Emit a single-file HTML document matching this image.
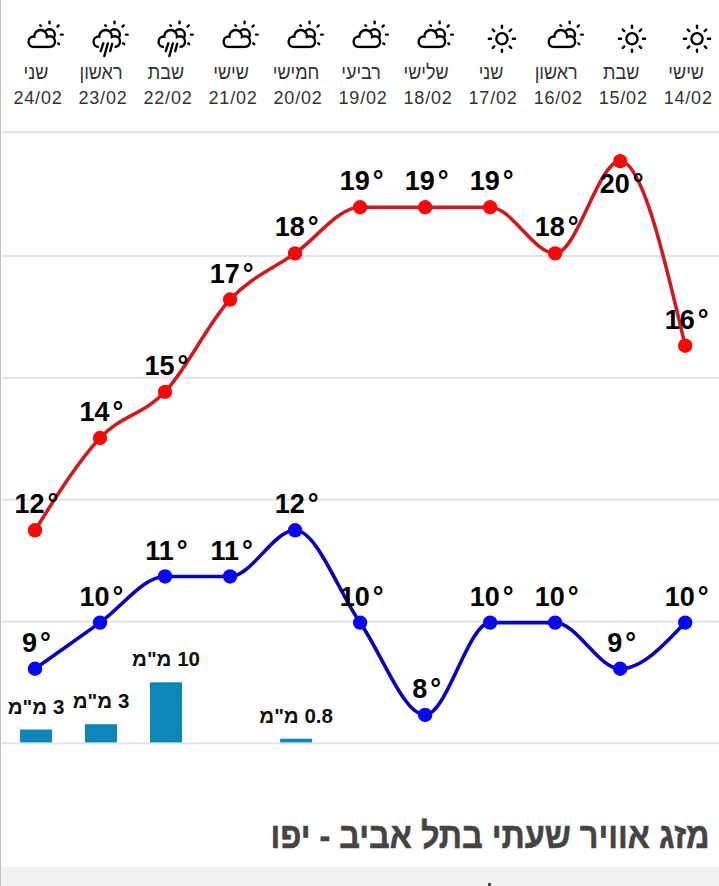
<!DOCTYPE html>
<html><head><meta charset="utf-8"><style>
html,body{margin:0;padding:0;}
body{width:719px;height:886px;position:relative;overflow:hidden;background:#fff;font-family:"Liberation Sans",sans-serif;}
.lb{position:absolute;left:0;top:0;width:1px;height:886px;background:#c0c0c0;}
.dn,.dt{position:absolute;width:80px;text-align:center;color:#333;font-size:18px;line-height:20px;white-space:nowrap;}
.dn{top:62px;transform:scaleY(1.15);transform-origin:50% 8px;}
.dt{top:88px;letter-spacing:0.8px;}
svg{position:absolute;left:0;top:0;}
.tl{font-family:"Liberation Sans",sans-serif;font-weight:bold;font-size:27px;text-anchor:middle;fill:#000;}
.bl{font-family:"Liberation Sans",sans-serif;font-weight:bold;font-size:20.5px;text-anchor:middle;fill:#111;}
.title{position:absolute;right:9.5px;top:819px;-webkit-text-stroke:0.5px #444;line-height:36px;transform:scaleY(1.11);transform-origin:100% 29px;font-size:32.4px;font-weight:bold;color:#444;direction:rtl;white-space:nowrap;}
.band{position:absolute;left:1px;top:866.5px;width:718px;height:20px;background:#f2f2f2;}
</style></head><body>
<div class="lb"></div>
<div class="dn" style="left:-4.0px">שני</div><div class="dt" style="left:-2.0px">24/02</div><div class="dn" style="left:61.0px">ראשון</div><div class="dt" style="left:63.0px">23/02</div><div class="dn" style="left:126.0px">שבת</div><div class="dt" style="left:128.0px">22/02</div><div class="dn" style="left:191.1px">שישי</div><div class="dt" style="left:193.1px">21/02</div><div class="dn" style="left:256.1px">חמישי</div><div class="dt" style="left:258.1px">20/02</div><div class="dn" style="left:321.1px">רביעי</div><div class="dt" style="left:323.1px">19/02</div><div class="dn" style="left:386.1px">שלישי</div><div class="dt" style="left:388.1px">18/02</div><div class="dn" style="left:451.1px">שני</div><div class="dt" style="left:453.1px">17/02</div><div class="dn" style="left:516.2px">ראשון</div><div class="dt" style="left:518.2px">16/02</div><div class="dn" style="left:581.2px">שבת</div><div class="dt" style="left:583.2px">15/02</div><div class="dn" style="left:646.2px">שישי</div><div class="dt" style="left:648.2px">14/02</div>
<svg width="719" height="886" viewBox="0 0 719 886">
<defs><g id="i_cs"><g stroke="#000" stroke-width="2.4" stroke-linecap="round"><line x1="5.87" y1="25.97" x2="5.17" y2="25.27"/><line x1="14.50" y1="23.30" x2="14.50" y2="21.60"/><line x1="22.49" y1="26.61" x2="23.69" y2="25.41"/><line x1="26.00" y1="34.60" x2="27.70" y2="34.60"/><line x1="23.20" y1="43.30" x2="24.12" y2="44.22"/></g><circle cx="14.5" cy="34.6" r="6.50" fill="#000"/><circle cx="14.5" cy="34.6" r="4.10" fill="#fff"/><circle cx="-1.3" cy="41.7" r="6.40" fill="#000"/><circle cx="5.6" cy="36.4" r="7.60" fill="#000"/><circle cx="14.7" cy="41.6" r="6.50" fill="#000"/><rect x="-1.30" y="41.60" width="16.00" height="6.50" fill="#000"/><circle cx="-1.3" cy="41.7" r="4.00" fill="#fff"/><circle cx="5.6" cy="36.4" r="5.20" fill="#fff"/><circle cx="14.7" cy="41.6" r="4.10" fill="#fff"/><rect x="-1.30" y="40.00" width="16.00" height="5.70" fill="#fff"/><circle cx="10.3" cy="39.6" r="1.50" fill="#fff"/></g><g id="i_rain"><g stroke="#000" stroke-width="2.4" stroke-linecap="round"><line x1="5.87" y1="25.97" x2="5.17" y2="25.27"/><line x1="14.50" y1="23.30" x2="14.50" y2="21.60"/><line x1="22.49" y1="26.61" x2="23.69" y2="25.41"/><line x1="26.00" y1="34.60" x2="27.70" y2="34.60"/><line x1="23.20" y1="43.30" x2="24.12" y2="44.22"/></g><circle cx="14.5" cy="34.6" r="6.50" fill="#000"/><circle cx="14.5" cy="34.6" r="4.10" fill="#fff"/><circle cx="-1.3" cy="41.7" r="6.40" fill="#000"/><circle cx="5.6" cy="36.4" r="7.60" fill="#000"/><circle cx="14.7" cy="41.6" r="6.50" fill="#000"/><rect x="-1.30" y="41.60" width="16.00" height="6.50" fill="#000"/><circle cx="-1.3" cy="41.7" r="4.00" fill="#fff"/><circle cx="5.6" cy="36.4" r="5.20" fill="#fff"/><circle cx="14.7" cy="41.6" r="4.10" fill="#fff"/><rect x="-1.30" y="40.00" width="16.00" height="5.70" fill="#fff"/><circle cx="10.3" cy="39.6" r="1.50" fill="#fff"/><rect x="-1.10" y="44.00" width="15.60" height="5.00" fill="#fff"/><g stroke="#000" stroke-width="2.4" stroke-linecap="round"><line x1="3.30" y1="43.3" x2="0.70" y2="51.0"/><line x1="7.80" y1="43.5" x2="4.30" y2="56.0"/><line x1="12.20" y1="43.8" x2="10.20" y2="51.0"/></g></g><g id="i_sun"><g stroke="#000" stroke-width="2.4" stroke-linecap="round"><line x1="22.70" y1="38.75" x2="24.90" y2="38.75"/><line x1="19.51" y1="46.46" x2="21.06" y2="48.01"/><line x1="11.80" y1="49.65" x2="11.80" y2="51.85"/><line x1="4.09" y1="46.46" x2="2.54" y2="48.01"/><line x1="0.90" y1="38.75" x2="-1.30" y2="38.75"/><line x1="4.09" y1="31.04" x2="2.54" y2="29.49"/><line x1="11.80" y1="27.85" x2="11.80" y2="25.65"/><line x1="19.51" y1="31.04" x2="21.06" y2="29.49"/></g><circle cx="11.8" cy="38.75" r="6.80" fill="#000"/><circle cx="11.8" cy="38.75" r="4.40" fill="#fff"/></g></defs>
<use href="#i_cs" x="35.00" y="0"/>
<use href="#i_rain" x="100.02" y="0"/>
<use href="#i_rain" x="165.04" y="0"/>
<use href="#i_cs" x="230.06" y="0"/>
<use href="#i_cs" x="295.08" y="0"/>
<use href="#i_cs" x="360.10" y="0"/>
<use href="#i_cs" x="425.12" y="0"/>
<use href="#i_sun" x="490.14" y="0"/>
<use href="#i_cs" x="555.16" y="0"/>
<use href="#i_sun" x="620.18" y="0"/>
<use href="#i_sun" x="685.20" y="0"/>
<rect x="2" y="131.2" width="717" height="2" fill="#e4e4e4"/>
<rect x="2" y="255.0" width="717" height="2" fill="#e4e4e4"/>
<rect x="2" y="376.8" width="717" height="2" fill="#e4e4e4"/>
<rect x="2" y="498.7" width="717" height="2" fill="#e4e4e4"/>
<rect x="2" y="620.6" width="717" height="2" fill="#e4e4e4"/>
<rect x="2" y="742.4" width="717" height="2" fill="#e4e4e4"/>
<rect x="20.0" y="729.5" width="32" height="12.9" fill="#0e87b8"/>
<text class="bl" direction="rtl" x="36.0" y="713.5">3 מ"מ</text>
<rect x="85.0" y="724.2" width="32" height="18.2" fill="#0e87b8"/>
<text class="bl" direction="rtl" x="101.0" y="708.2">3 מ"מ</text>
<rect x="150.0" y="682.3" width="32" height="60.1" fill="#0e87b8"/>
<text class="bl" direction="rtl" x="166.0" y="666.3">10 מ"מ</text>
<rect x="280.1" y="738.7" width="32" height="3.7" fill="#0e87b8"/>
<text class="bl" direction="rtl" x="296.1" y="722.7">0.8 מ"מ</text>
<path d="M35.00,530.30 C56.67,495.69 78.35,461.07 100.02,438.00 C121.69,414.93 143.37,414.93 165.04,391.85 C186.71,368.78 208.39,322.62 230.06,299.55 C251.73,276.48 273.41,268.78 295.08,253.40 C316.75,238.02 338.43,207.25 360.10,207.25 C381.77,207.25 403.45,207.25 425.12,207.25 C446.79,207.25 468.47,207.25 490.14,207.25 C511.81,207.25 533.49,253.40 555.16,253.40 C576.83,253.40 598.51,161.10 620.18,161.10 C641.85,161.10 663.53,253.40 685.20,345.70" fill="none" stroke="#d01a22" stroke-width="3.6"/>
<path d="M35.00,668.75 C56.67,653.37 78.35,637.98 100.02,622.60 C121.69,607.22 143.37,576.45 165.04,576.45 C186.71,576.45 208.39,576.45 230.06,576.45 C251.73,576.45 273.41,530.30 295.08,530.30 C316.75,530.30 338.43,591.83 360.10,622.60 C381.77,653.37 403.45,714.90 425.12,714.90 C446.79,714.90 468.47,622.60 490.14,622.60 C511.81,622.60 533.49,622.60 555.16,622.60 C576.83,622.60 598.51,668.75 620.18,668.75 C641.85,668.75 663.53,645.67 685.20,622.60" fill="none" stroke="#0606b8" stroke-width="3.6"/>
<circle cx="35.00" cy="530.30" r="7.2" fill="#fa0808"/>
<circle cx="100.02" cy="438.00" r="7.2" fill="#fa0808"/>
<circle cx="165.04" cy="391.85" r="7.2" fill="#fa0808"/>
<circle cx="230.06" cy="299.55" r="7.2" fill="#fa0808"/>
<circle cx="295.08" cy="253.40" r="7.2" fill="#fa0808"/>
<circle cx="360.10" cy="207.25" r="7.2" fill="#fa0808"/>
<circle cx="425.12" cy="207.25" r="7.2" fill="#fa0808"/>
<circle cx="490.14" cy="207.25" r="7.2" fill="#fa0808"/>
<circle cx="555.16" cy="253.40" r="7.2" fill="#fa0808"/>
<circle cx="620.18" cy="161.10" r="7.2" fill="#fa0808"/>
<circle cx="685.20" cy="345.70" r="7.2" fill="#fa0808"/>
<circle cx="35.00" cy="668.75" r="7.2" fill="#0808f4"/>
<circle cx="100.02" cy="622.60" r="7.2" fill="#0808f4"/>
<circle cx="165.04" cy="576.45" r="7.2" fill="#0808f4"/>
<circle cx="230.06" cy="576.45" r="7.2" fill="#0808f4"/>
<circle cx="295.08" cy="530.30" r="7.2" fill="#0808f4"/>
<circle cx="360.10" cy="622.60" r="7.2" fill="#0808f4"/>
<circle cx="425.12" cy="714.90" r="7.2" fill="#0808f4"/>
<circle cx="490.14" cy="622.60" r="7.2" fill="#0808f4"/>
<circle cx="555.16" cy="622.60" r="7.2" fill="#0808f4"/>
<circle cx="620.18" cy="668.75" r="7.2" fill="#0808f4"/>
<circle cx="685.20" cy="622.60" r="7.2" fill="#0808f4"/>
<text class="tl" x="36.5" y="513.3">12<tspan dx="3">°</tspan></text>
<text class="tl" x="101.5" y="421.0">14<tspan dx="3">°</tspan></text>
<text class="tl" x="166.5" y="374.9">15<tspan dx="3">°</tspan></text>
<text class="tl" x="231.6" y="282.6">17<tspan dx="3">°</tspan></text>
<text class="tl" x="296.6" y="236.4">18<tspan dx="3">°</tspan></text>
<text class="tl" x="361.6" y="190.3">19<tspan dx="3">°</tspan></text>
<text class="tl" x="426.6" y="190.3">19<tspan dx="3">°</tspan></text>
<text class="tl" x="491.6" y="190.3">19<tspan dx="3">°</tspan></text>
<text class="tl" x="556.7" y="236.4">18<tspan dx="3">°</tspan></text>
<text class="tl" x="621.7" y="193.1">20<tspan dx="3">°</tspan></text>
<text class="tl" x="686.7" y="328.7">16<tspan dx="3">°</tspan></text>
<text class="tl" x="36.5" y="651.8">9<tspan dx="3">°</tspan></text>
<text class="tl" x="101.5" y="605.6">10<tspan dx="3">°</tspan></text>
<text class="tl" x="166.5" y="559.5">11<tspan dx="3">°</tspan></text>
<text class="tl" x="231.6" y="559.5">11<tspan dx="3">°</tspan></text>
<text class="tl" x="296.6" y="513.3">12<tspan dx="3">°</tspan></text>
<text class="tl" x="361.6" y="605.6">10<tspan dx="3">°</tspan></text>
<text class="tl" x="426.6" y="697.9">8<tspan dx="3">°</tspan></text>
<text class="tl" x="491.6" y="605.6">10<tspan dx="3">°</tspan></text>
<text class="tl" x="556.7" y="605.6">10<tspan dx="3">°</tspan></text>
<text class="tl" x="621.7" y="651.8">9<tspan dx="3">°</tspan></text>
<text class="tl" x="686.7" y="605.6">10<tspan dx="3">°</tspan></text>
</svg>
<div class="title">מזג אוויר שעתי בתל אביב - יפו</div>
<div class="band"></div><div style="position:absolute;left:488px;top:883px;width:3px;height:3px;background:#4a4a4a"></div>
</body></html>
